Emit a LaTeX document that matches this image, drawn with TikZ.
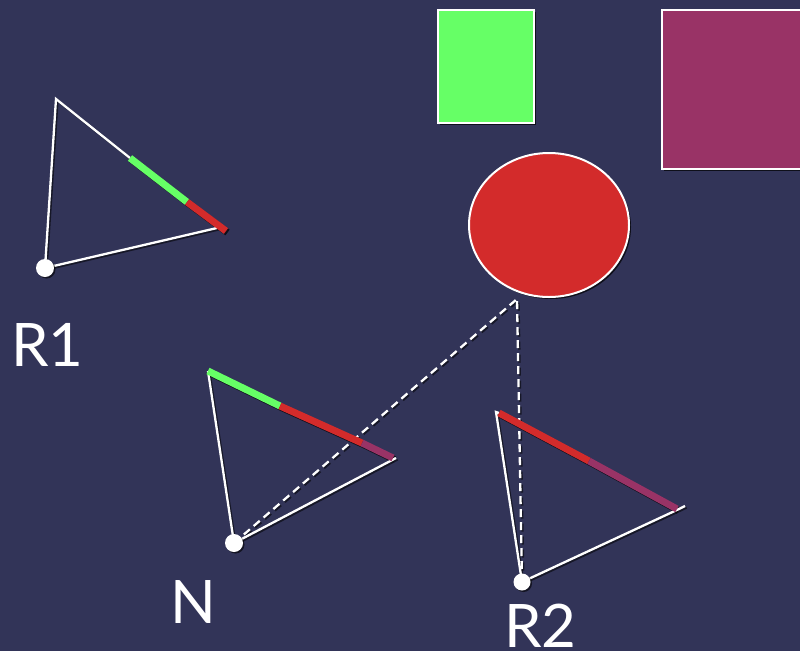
\documentclass[tikz,border=0pt]{standalone}
\usepackage{fontspec}
\setmainfont{Lato}
\usetikzlibrary{shapes.geometric,shadows}
\definecolor{bg}{RGB}{50,52,88}
\definecolor{kgreen}{RGB}{102,255,102}
\definecolor{kred}{RGB}{211,43,43}
\definecolor{kpurple}{RGB}{153,51,102}
\newcommand\mylines{%
  % R1
  \draw[wline] (R1p) -- (R1top) -- (R1g);
  \draw[wline] (R1p) -- (R1far);
  \draw[gbar] (R1g) -- (R1r);
  \draw[rbar] (R1r) -- (R1e);
  % N
  \draw[wline] (Np) -- (Ntop);
  \draw[wline] (Np) -- (Nfar);
  \draw[dline] (Np) -- (cb);
  \draw[gbar] (Ntop) -- (Ng);
  \draw[rbar] (Ng) -- (Nr);
  \draw[pbar] (Nr) -- (Ne);
  % R2
  \draw[wline] (R2p) -- (R2top) -- (R2s);
  \draw[wline] (R2p) -- (R2far) -- (R2tip);
  \draw[dline] (R2p) -- (cb);
  \draw[rbar] (R2s) -- (R2r);
  \draw[pbar] (R2r) -- (R2e);
}
\begin{document}
\begin{tikzpicture}[x=1pt,y=-1pt,
  wline/.style={white,line width=2.3pt},
  dline/.style={white,line width=2.3pt,dash pattern=on 8pt off 5pt},
  gbar/.style={kgreen,line width=7pt},
  rbar/.style={kred,line width=7pt},
  pbar/.style={kpurple,line width=7pt},
  dot/.style={circle,fill=white,inner sep=0pt,minimum size=18pt,
    drop shadow={shadow xshift=1.5pt,shadow yshift=-1.5pt,opacity=.6,fill=black}},
  boxsh/.style={drop shadow={shadow xshift=2pt,shadow yshift=-2pt,opacity=.7,fill=black}},
  lbl/.style={white,inner sep=0pt,anchor=base west,font=\fontsize{60}{60}\selectfont}]
\useasboundingbox (0,0) rectangle (800,651);
\clip (0,0) rectangle (800,651);
\fill[bg] (0,0) rectangle (800,651);
% coordinates
\coordinate (R1p) at (45,268);
\coordinate (R1top) at (56,99);
\coordinate (R1far) at (217,228);
\coordinate (R1g) at (130,158);
\coordinate (R1r) at (187,202);
\coordinate (R1e) at (226,231);
\coordinate (Np) at (234,543);
\coordinate (Ntop) at (208,371);
\coordinate (Nfar) at (396,458);
\coordinate (Ng) at (280,406);
\coordinate (Nr) at (362,443);
\coordinate (Ne) at (393,458);
\coordinate (R2p) at (522,582);
\coordinate (R2top) at (496,412);
\coordinate (R2s) at (499,413);
\coordinate (R2r) at (589,461);
\coordinate (R2e) at (677,509);
\coordinate (R2far) at (679,509);
\coordinate (R2tip) at (685,506);
\coordinate (cb) at (517,299);
% shapes
\node[boxsh,draw=white,line width=1.5pt,fill=kgreen,minimum width=96pt,minimum height=113pt,inner sep=0pt,anchor=north west] (gsq) at (437,9) {};
\node[boxsh,draw=white,line width=1.5pt,fill=kpurple,minimum width=160pt,minimum height=159pt,inner sep=0pt,anchor=north west] (psq) at (661,9) {};
\node[boxsh,ellipse,draw=white,line width=2pt,fill=kred,minimum width=160pt,minimum height=144pt,inner sep=0pt] (blob) at (549,225) {};
% shadows of lines
\begin{scope}[transform canvas={shift={(1.5pt,-1.5pt)}},
  wline/.style={black,opacity=.55,line width=2.3pt},
  dline/.style={black,opacity=.55,line width=2.3pt,dash pattern=on 8pt off 5pt},
  gbar/.style={black,opacity=.7,line width=7pt},
  rbar/.style={black,opacity=.7,line width=7pt},
  pbar/.style={black,opacity=.7,line width=7pt}]
\mylines
\end{scope}
\mylines
% dots
\node[dot] (R1dot) at (R1p) {};
\node[dot] (Ndot) at (Np) {};
\node[dot,minimum size=17pt] (R2dot) at (R2p) {};
% labels
\node[lbl] (lR1) at (11,366) {R1};
\node[lbl] (lN) at (170,623) {N};
\node[lbl] (lR2) at (504,647) {R2};
\end{tikzpicture}
\end{document}
